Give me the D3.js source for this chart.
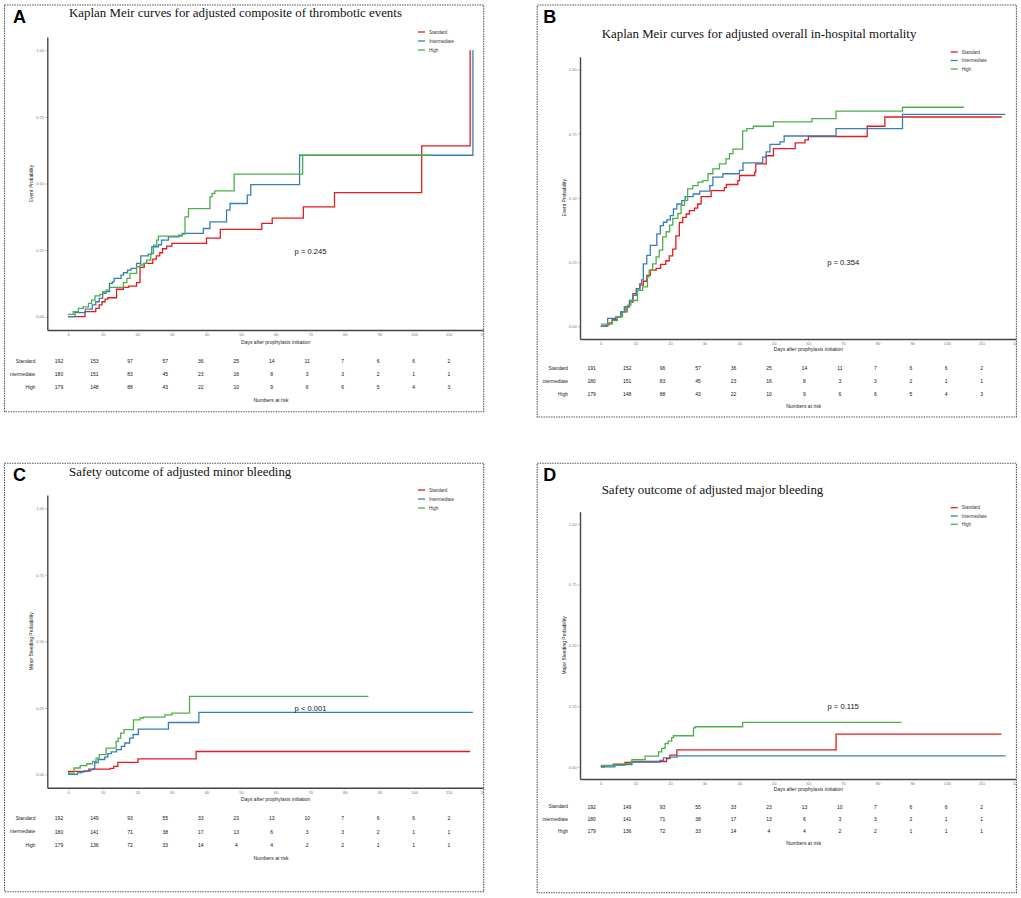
<!DOCTYPE html>
<html>
<head>
<meta charset="utf-8">
<script src="https://cdn.jsdelivr.net/npm/d3@7"></script>
<style>
  body { margin: 0; background: #fff; }
  svg { display: block; }
</style>
</head>
<body>
<svg id="chart" width="1021" height="898"></svg>
<script>
const groups = ['Standard', 'Intermediate', 'High']
const groupColors = ['#e41a1c', '#377eb8', '#4daf4a']
const xTicks = d3.range(0, 121, 10)
const yTicks = [0, 0.25, 0.5, 0.75, 1]
const riskDays = d3.range(0, 111, 10)

// A - composite of thrombotic events: [day, probability]
const thromboStandard = [[0, 0], [4.9, 0.019], [8, 0.031], [9, 0.044], [9.8, 0.056], [10.7, 0.066], [11.5, 0.071], [14, 0.103], [16, 0.11], [17.5, 0.115], [19.8, 0.128], [20.8, 0.185], [22, 0.2], [24.5, 0.216], [25.5, 0.228], [26.5, 0.24], [27.3, 0.255], [28.5, 0.265], [30, 0.275], [40, 0.295], [44, 0.328], [56, 0.35], [59, 0.37], [68, 0.412], [77, 0.466], [102.2, 0.641], [116.2, 1.0]]
const thromboIntermediate = [[0, 0], [2, 0.015], [5, 0.028], [7, 0.044], [8, 0.056], [9, 0.069], [10, 0.088], [11, 0.094], [12, 0.125], [12.8, 0.131], [13.3, 0.144], [15.3, 0.156], [16, 0.165], [17.2, 0.175], [18.2, 0.181], [19.8, 0.2], [21, 0.228], [23.2, 0.235], [24.2, 0.2625], [26.1, 0.27], [27, 0.2875], [29, 0.3], [32, 0.306], [33, 0.3125], [39.1, 0.331], [41, 0.356], [45.8, 0.4], [46.8, 0.425], [51.8, 0.456], [52.8, 0.496], [66.9, 0.606], [117, 1.0]]
const thromboHigh = [[0, 0.009], [1.5, 0.019], [3, 0.031], [4.4, 0.037], [5.9, 0.05], [6.8, 0.0625], [7.8, 0.078], [9.2, 0.084], [10, 0.094], [11, 0.1], [11.9, 0.11], [16, 0.1275], [17, 0.144], [17.9, 0.1625], [19.8, 0.1875], [20.8, 0.194], [21.8, 0.2], [22.7, 0.2125], [23.9, 0.2375], [24.7, 0.269], [25.6, 0.2875], [26.1, 0.3025], [33, 0.31], [33.8, 0.375], [34.8, 0.406], [41, 0.45], [41.6, 0.4625], [42.4, 0.4725], [48, 0.535], [67.8, 0.606], [105, 0.606]]

// B - overall in-hospital mortality
const mortalityStandard = [[0, 0], [1.7, 0.005], [2.4, 0.013], [3.3, 0.026], [4.8, 0.036], [5.8, 0.056], [7.3, 0.075], [8.3, 0.094], [9.3, 0.127], [10.3, 0.146], [11.3, 0.16], [12.3, 0.175], [13.3, 0.198], [14.3, 0.218], [16, 0.225], [17.3, 0.241], [18.8, 0.255], [19.8, 0.274], [20.8, 0.3], [21.7, 0.352], [22.7, 0.404], [23.7, 0.424], [24.7, 0.437], [25.6, 0.45], [27.1, 0.46], [28, 0.476], [29, 0.505], [31.9, 0.528], [35.7, 0.54], [36.3, 0.552], [39.6, 0.567], [40.1, 0.587], [44.5, 0.6], [44.8, 0.632], [47.8, 0.664], [49.9, 0.692], [56.2, 0.714], [59, 0.726], [60, 0.739], [77, 0.779], [82.1, 0.815], [115.9, 0.815]]
const mortalityIntermediate = [[0, 0], [2, 0.03], [4.3, 0.036], [5.8, 0.056], [6.8, 0.075], [8.3, 0.1], [9.3, 0.12], [10.3, 0.146], [11.3, 0.166], [11.8, 0.18], [12.3, 0.243], [13.3, 0.276], [14.3, 0.315], [16.2, 0.36], [17.2, 0.392], [18.1, 0.405], [19.1, 0.414], [20.1, 0.431], [21, 0.457], [22, 0.476], [23.4, 0.489], [24.4, 0.505], [26.7, 0.515], [28.6, 0.526], [31.5, 0.548], [32.4, 0.581], [35.3, 0.594], [40.1, 0.607], [41.1, 0.636], [46.8, 0.659], [47.8, 0.679], [48.9, 0.708], [51.8, 0.718], [53, 0.741], [68, 0.77], [87.2, 0.825], [116.9, 0.825]]
const mortalityHigh = [[0, 0.008], [3.3, 0.022], [4.8, 0.036], [6.3, 0.056], [7.7, 0.082], [8.7, 0.1], [10.6, 0.14], [12.1, 0.153], [13.5, 0.192], [14, 0.218], [15, 0.243], [16, 0.27], [16.9, 0.296], [17.9, 0.348], [18.9, 0.368], [19.9, 0.394], [20.8, 0.42], [22.3, 0.439], [23.2, 0.471], [24.2, 0.49], [25.1, 0.535], [26.6, 0.548], [28.1, 0.561], [29.5, 0.567], [31, 0.594], [32.4, 0.613], [34.3, 0.632], [36.2, 0.652], [37.2, 0.672], [38.2, 0.69], [41, 0.761], [42.2, 0.77], [44.1, 0.779], [49.9, 0.796], [61, 0.809], [68, 0.838], [87.2, 0.853], [105, 0.853]]

// C - minor bleeding
const minorStandard = [[0, 0], [0.2, 0.011], [6, 0.02], [12.2, 0.023], [13.2, 0.03], [14.4, 0.045], [20.2, 0.058], [37, 0.086], [116.2, 0.086]]
const minorIntermediate = [[0, 0], [2.7, 0.006], [3.7, 0.009], [4.6, 0.013], [6.6, 0.018], [7.3, 0.022], [7.7, 0.044], [8.7, 0.056], [10.6, 0.065], [11.5, 0.078], [12.5, 0.085], [14, 0.093], [15.4, 0.105], [16.4, 0.118], [17.8, 0.136], [18.8, 0.15], [20.3, 0.17], [29, 0.195], [37.8, 0.233], [117, 0.233]]
const minorHigh = [[0, 0.005], [1.7, 0.024], [3.5, 0.033], [5.4, 0.04], [7.1, 0.049], [8.1, 0.061], [9, 0.074], [11, 0.099], [13.9, 0.124], [14.5, 0.136], [15.2, 0.155], [16.2, 0.168], [18.9, 0.205], [20.8, 0.212], [21.8, 0.215], [28, 0.224], [30, 0.23], [35.1, 0.293], [86.8, 0.293]]

// D - major bleeding
const majorStandard = [[0, 0], [1, 0.005], [3.6, 0.011], [7, 0.018], [8.9, 0.022], [19, 0.034], [20, 0.048], [22, 0.07], [68, 0.135], [115.8, 0.135]]
const majorIntermediate = [[0, 0], [4.1, 0.009], [9, 0.02], [17.1, 0.027], [18.1, 0.037], [20, 0.04], [22, 0.045], [117, 0.045]]
const majorHigh = [[0, 0.006], [7, 0.014], [9, 0.03], [12.8, 0.044], [16.7, 0.062], [17.6, 0.076], [18.6, 0.096], [19.5, 0.106], [20.5, 0.12], [21, 0.128], [26.8, 0.16], [27.3, 0.165], [41, 0.183], [86.9, 0.183]]

// numbers at risk, rows follow groups
const riskThrombo = [
  [192, 153, 97, 57, 36, 25, 14, 11, 7, 6, 6, 2],
  [180, 151, 83, 45, 23, 16, 8, 3, 3, 2, 1, 1],
  [179, 148, 88, 43, 22, 10, 9, 6, 6, 5, 4, 3]
]
const riskMortality = [
  [191, 152, 96, 57, 36, 25, 14, 11, 7, 6, 6, 2],
  [180, 151, 83, 45, 23, 16, 8, 3, 3, 2, 1, 1],
  [179, 148, 88, 43, 22, 10, 9, 6, 6, 5, 4, 3]
]
const riskBleeding = [
  [192, 149, 93, 55, 33, 23, 13, 10, 7, 6, 6, 2],
  [180, 141, 71, 38, 17, 13, 6, 3, 3, 2, 1, 1],
  [179, 136, 72, 33, 14, 4, 4, 2, 2, 1, 1, 1]
]

const panels = [
  {
    letter: 'A', title: 'Kaplan Meir curves for adjusted composite of thrombotic events',
    yLabel: 'Event Probability', pText: 'p = 0.245',
    curves: [thromboStandard, thromboIntermediate, thromboHigh], risk: riskThrombo,
    dx: 0, letterX: 13, boxTop: 5, boxBot: 411.7, titleY: 17.3, legendY: 32, legendGap: 9,
    axisTop: 37, axisY: 330, pY: 251, xTitleY: 341.7, riskY: [361, 374.3, 387.3], narY: 400
  },
  {
    letter: 'B', title: 'Kaplan Meir curves for adjusted overall in-hospital mortality',
    yLabel: 'Event Probability', pText: 'p = 0.354',
    curves: [mortalityStandard, mortalityIntermediate, mortalityHigh], risk: riskMortality,
    dx: 532.7, letterX: 10.5, boxTop: 5, boxBot: 417, titleY: 37.5, legendY: 52, legendGap: 8.5,
    axisTop: 56.7, axisY: 339, pY: 262.7, xTitleY: 349.3, riskY: [368.3, 381, 394], narY: 406
  },
  {
    letter: 'C', title: 'Safety outcome of adjusted minor bleeding',
    yLabel: 'Minor Bleeding Probability', pText: 'p < 0.001',
    curves: [minorStandard, minorIntermediate, minorHigh], risk: riskBleeding,
    dx: 0, letterX: 13, boxTop: 463.3, boxBot: 891.7, titleY: 475.7, legendY: 490, legendGap: 9,
    axisTop: 495, axisY: 787.7, pY: 708.3, xTitleY: 799.3, riskY: [818.3, 831.7, 845], narY: 858.3
  },
  {
    letter: 'D', title: 'Safety outcome of adjusted major bleeding',
    yLabel: 'Major Bleeding Probability', pText: 'p = 0.115',
    curves: [majorStandard, majorIntermediate, majorHigh], risk: riskBleeding,
    dx: 532.7, letterX: 10.5, boxTop: 463.3, boxBot: 892.7, titleY: 494.3, legendY: 507.7, legendGap: 8.3,
    axisTop: 511.7, axisY: 779, pY: 706.7, xTitleY: 789.3, riskY: [806.7, 819, 831], narY: 842.7
  }
]

const sans = 'Liberation Sans, Arial, sans-serif'
const svg = d3.select('#chart')

panels.forEach(p => {
  const g = svg.append('g').attr('transform', `translate(${p.dx},0)`)

  const clip = g.append('clipPath').attr('id', 'clip' + p.letter)
  clip.append('rect')
      .attr('x', 4.5).attr('y', p.boxTop)
      .attr('width', 479.2).attr('height', p.boxBot - p.boxTop)
  const labelClip = g.append('clipPath').attr('id', 'lclip' + p.letter)
  labelClip.append('rect')
      .attr('x', 9.8).attr('y', p.boxTop)
      .attr('width', 40).attr('height', p.boxBot - p.boxTop)

  g.append('rect')
      .attr('x', 4.5).attr('y', p.boxTop)
      .attr('width', 479.2).attr('height', p.boxBot - p.boxTop)
      .attr('fill', 'none')
      .attr('stroke', '#555')
      .attr('stroke-width', 1.1)
      .attr('stroke-dasharray', '1.5,1')

  const inner = g.append('g').attr('clip-path', `url(#clip${p.letter})`)

  const x = d3.scaleLinear().domain([-6, 120]).range([47.3, 483.3])
  const y = d3.scaleLinear().domain([-0.05, 1.05]).range([p.axisY, p.axisTop])

  const xAxis = inner.append('g')
      .attr('transform', `translate(0,${p.axisY})`)
      .call(d3.axisBottom(x).tickValues(xTicks).tickSize(2).tickSizeOuter(0).tickPadding(1))
  const yAxis = inner.append('g')
      .attr('transform', 'translate(47.3,0)')
      .call(d3.axisLeft(y).tickValues(yTicks).tickFormat(d3.format('.2f'))
        .tickSize(2).tickSizeOuter(0).tickPadding(1.2))
  ;[xAxis, yAxis].forEach(a => {
    a.attr('font-size', 4.1).attr('font-family', sans)
    a.select('.domain').attr('stroke', '#444').attr('stroke-width', 1.4)
    a.selectAll('.tick line').attr('stroke', '#666').attr('stroke-width', 0.5)
    a.selectAll('.tick text').attr('fill', '#777')
  })

  const line = d3.line()
      .x(d => x(d[0]))
      .y(d => y(d[1]))
      .curve(d3.curveStepAfter)

  inner.selectAll('path.curve')
      .data(p.curves)
      .join('path')
      .attr('class', 'curve')
      .attr('d', line)
      .attr('fill', 'none')
      .attr('stroke', (d, i) => groupColors[i])
      .attr('stroke-width', 1.3)

  // legend
  g.selectAll('line.legend')
      .data(groups)
      .join('line')
      .attr('class', 'legend')
      .attr('x1', 418).attr('x2', 425)
      .attr('y1', (d, i) => p.legendY + i * p.legendGap)
      .attr('y2', (d, i) => p.legendY + i * p.legendGap)
      .attr('stroke', (d, i) => groupColors[i])
      .attr('stroke-width', 1.3)
  g.selectAll('text.legend')
      .data(groups)
      .join('text')
      .attr('class', 'legend')
      .attr('x', 429)
      .attr('y', (d, i) => p.legendY + i * p.legendGap)
      .attr('dominant-baseline', 'central')
      .attr('font-family', sans)
      .attr('font-size', 4.5)
      .attr('fill', '#333')
      .text(d => d)

  g.append('text')
      .attr('x', p.letterX).attr('y', p.boxTop + 18)
      .attr('font-family', sans)
      .attr('font-weight', 'bold')
      .attr('font-size', 18)
      .text(p.letter)

  g.append('text')
      .attr('x', 69).attr('y', p.titleY)
      .attr('font-family', 'Liberation Serif, Times New Roman, serif')
      .attr('font-size', 12.9)
      .attr('fill', '#111')
      .text(p.title)

  g.append('text')
      .attr('x', 310.5).attr('y', p.pY)
      .attr('text-anchor', 'middle')
      .attr('dominant-baseline', 'central')
      .attr('font-family', sans)
      .attr('font-size', 7.6)
      .attr('fill', '#111')
      .text(p.pText)

  g.append('text')
      .attr('transform', `translate(31,${(p.axisTop + p.axisY) / 2}) rotate(-90)`)
      .attr('text-anchor', 'middle')
      .attr('dominant-baseline', 'central')
      .attr('font-family', sans)
      .attr('font-size', 5)
      .attr('fill', '#222')
      .text(p.yLabel)

  g.append('text')
      .attr('x', x(60)).attr('y', p.xTitleY)
      .attr('text-anchor', 'middle')
      .attr('dominant-baseline', 'central')
      .attr('font-family', sans)
      .attr('font-size', 5)
      .attr('fill', '#222')
      .text('Days after prophylaxis initiation')

  // risk table
  const rx = d3.scaleLinear().domain([0, 110]).range([59, 449])
  const labels = g.append('g').attr('clip-path', `url(#lclip${p.letter})`)
  groups.forEach((grp, r) => {
    labels.append('text')
        .attr('x', 35.3).attr('y', p.riskY[r])
        .attr('text-anchor', 'end')
        .attr('dominant-baseline', 'central')
        .attr('font-family', sans)
        .attr('font-size', 4.8)
        .attr('fill', '#222')
        .text(grp)
    g.selectAll('text.risk' + r)
        .data(p.risk[r])
        .join('text')
        .attr('class', 'risk' + r)
        .attr('x', (d, k) => rx(riskDays[k]))
        .attr('y', p.riskY[r])
        .attr('text-anchor', 'middle')
        .attr('dominant-baseline', 'central')
        .attr('font-family', sans)
        .attr('font-size', 5)
        .attr('fill', '#111')
        .text(d => d)
  })
  g.append('text')
      .attr('x', 271).attr('y', p.narY)
      .attr('text-anchor', 'middle')
      .attr('dominant-baseline', 'central')
      .attr('font-family', sans)
      .attr('font-size', 5)
      .attr('fill', '#222')
      .text('Numbers at risk')
})
</script>
</body>
</html>
